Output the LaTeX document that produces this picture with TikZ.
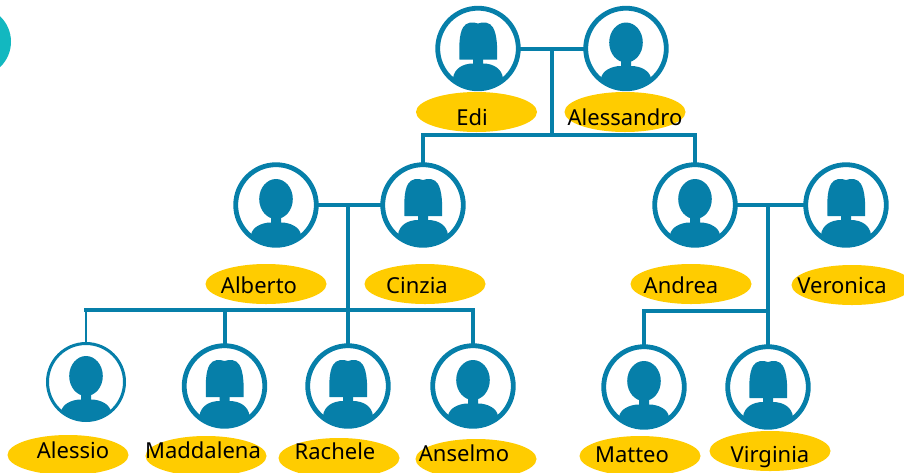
\documentclass[tikz,border=0pt]{standalone}
\usepackage{fontspec}
\setmainfont{Noto Sans}
\usetikzlibrary{shapes.geometric,calc}
\definecolor{famblue}{HTML}{067FA9}
\definecolor{famyellow}{HTML}{FFCC00}
\definecolor{famteal}{HTML}{12B8C0}
\newcommand{\famshoulders}[2]{%
  \fill[famblue] (-25,50) -- (-25,30) .. controls (-24,#1+5) and (-15,#1) .. (-5,#1) -- (-5,#2) -- (5,#2) -- (5,#1)
    .. controls (15,#1) and (24,#1+5) .. (25,30) -- (25,50) -- cycle;}
\newcommand{\famwoman}{%
  \begin{scope}[shift={(path picture bounding box.center)},scale=\famscale]
    \famshoulders{15}{8}
    \fill[famblue] (-18.5,11) .. controls (-19,-2) and (-19,-14) .. (-15,-21)
      .. controls (-12,-26.5) and (-5,-27) .. (0,-25) .. controls (5,-27) and (12,-26.5) .. (15,-21)
      .. controls (19,-14) and (19.5,-2) .. (19,11) -- cycle;
  \end{scope}}
\newcommand{\famman}{%
  \begin{scope}[shift={(path picture bounding box.center)},scale=\famscale]
    \famshoulders{17.5}{8}
    \fill[famblue] (0,-6) ellipse [x radius=16.8,y radius=20];
  \end{scope}}
\def\famscale{1}
\tikzset{
  x=1pt,y=-1pt,
  person/.style={circle,draw=famblue,line width=4.8pt,fill=white,minimum size=80.6pt,inner sep=0pt,outer sep=0pt},
  woman/.style={person,path picture={\famwoman}},
  man/.style={person,path picture={\famman}},
  thin person/.style={circle,draw=famblue,line width=3pt,fill=white,minimum size=77pt,inner sep=0pt,outer sep=0pt,
    path picture={\def\famscale{0.94}\famman}},
  tag/.style={ellipse,fill=famyellow,minimum width=121pt,minimum height=40pt,inner sep=0pt},
  tagtext/.style={anchor=base,font=\fontsize{22}{26}\selectfont,text=black,inner sep=0pt},
  link/.style={draw=famblue,line width=4pt},
  thin link/.style={draw=famblue,line width=2.8pt}
}
\begin{document}
\begin{tikzpicture}
\useasboundingbox (0,0) rectangle (904,472);
\begin{scope}
\clip (0,0) rectangle (904,472);
\fill[famteal] (-24,41.7) circle [radius=35];
% tags
\node[tag] (tedi) at (476.5,112) {};
\node[tag] (tales) at (625,112) {};
\node[tag] (talb) at (266,284) {};
\node[tag] (tcin) at (425,284) {};
\node[tag] (tand) at (691,284) {};
\node[tag] (tver) at (852,285) {};
\node[tag] (tale) at (68,455) {};
\node[tag] (tmad) at (206,456) {};
\node[tag] (trac) at (339,458) {};
\node[tag] (tans) at (476,459) {};
\node[tag] (tmat) at (640,456) {};
\node[tag] (tvir) at (770,451) {};
\end{scope}
% people
\node[woman] (edi) at (478,48.5) {};
\node[man] (alessandro) at (626,48.5) {};
\node[man] (alberto) at (276,205) {};
\node[woman] (cinzia) at (423,205) {};
\node[man] (andrea) at (695,205) {};
\node[woman] (veronica) at (846,205) {};
\node[thin person] (alessio) at (86,382) {};
\node[woman] (maddalena) at (224.5,386) {};
\node[woman] (rachele) at (348,386) {};
\node[man] (anselmo) at (473,386) {};
\node[man] (matteo) at (644,387) {};
\node[woman] (virginia) at (768,387) {};
% connectors
\coordinate (j1) at (552,48.5);
\coordinate (b1) at (552,135);
\coordinate (j2) at (348,205);
\coordinate (b2) at (348,310);
\coordinate (j3) at (768,205);
\coordinate (b3) at (768,311);
\draw[link] (edi) -- (alessandro);
\draw[link] (j1) -- (b1);
\draw[link] (cinzia) |- (b1) -| (andrea);
\draw[link] (alberto) -- (cinzia);
\draw[link] (j2) -- (b2);
\draw[link] (maddalena) |- (b2);
\draw[link] (rachele) -- (b2);
\draw[link] (anselmo) |- (b2);
\draw[thin link] (alessio) -- (alessio |- b2);
\draw[link,line cap=rect] (alessio |- b2) -- (b2);
\draw[link] (andrea) -- (veronica);
\draw[link] (j3) -- (virginia);
\draw[link] (matteo) |- (b3);
% texts
\node[tagtext] at (472,125) {Edi};
\node[tagtext] at (625,125) {Alessandro};
\node[tagtext] at (259,293) {Alberto};
\node[tagtext] at (417,293) {Cinzia};
\node[tagtext] at (681,293) {Andrea};
\node[tagtext] at (842,293) {Veronica};
\node[tagtext] at (73,458.5) {Alessio};
\node[tagtext] at (203,458.5) {Maddalena};
\node[tagtext] at (335,459) {Rachele};
\node[tagtext] at (464,461) {Anselmo};
\node[tagtext] at (632,462) {Matteo};
\node[tagtext] at (770,462) {Virginia};
\end{tikzpicture}
\end{document}
